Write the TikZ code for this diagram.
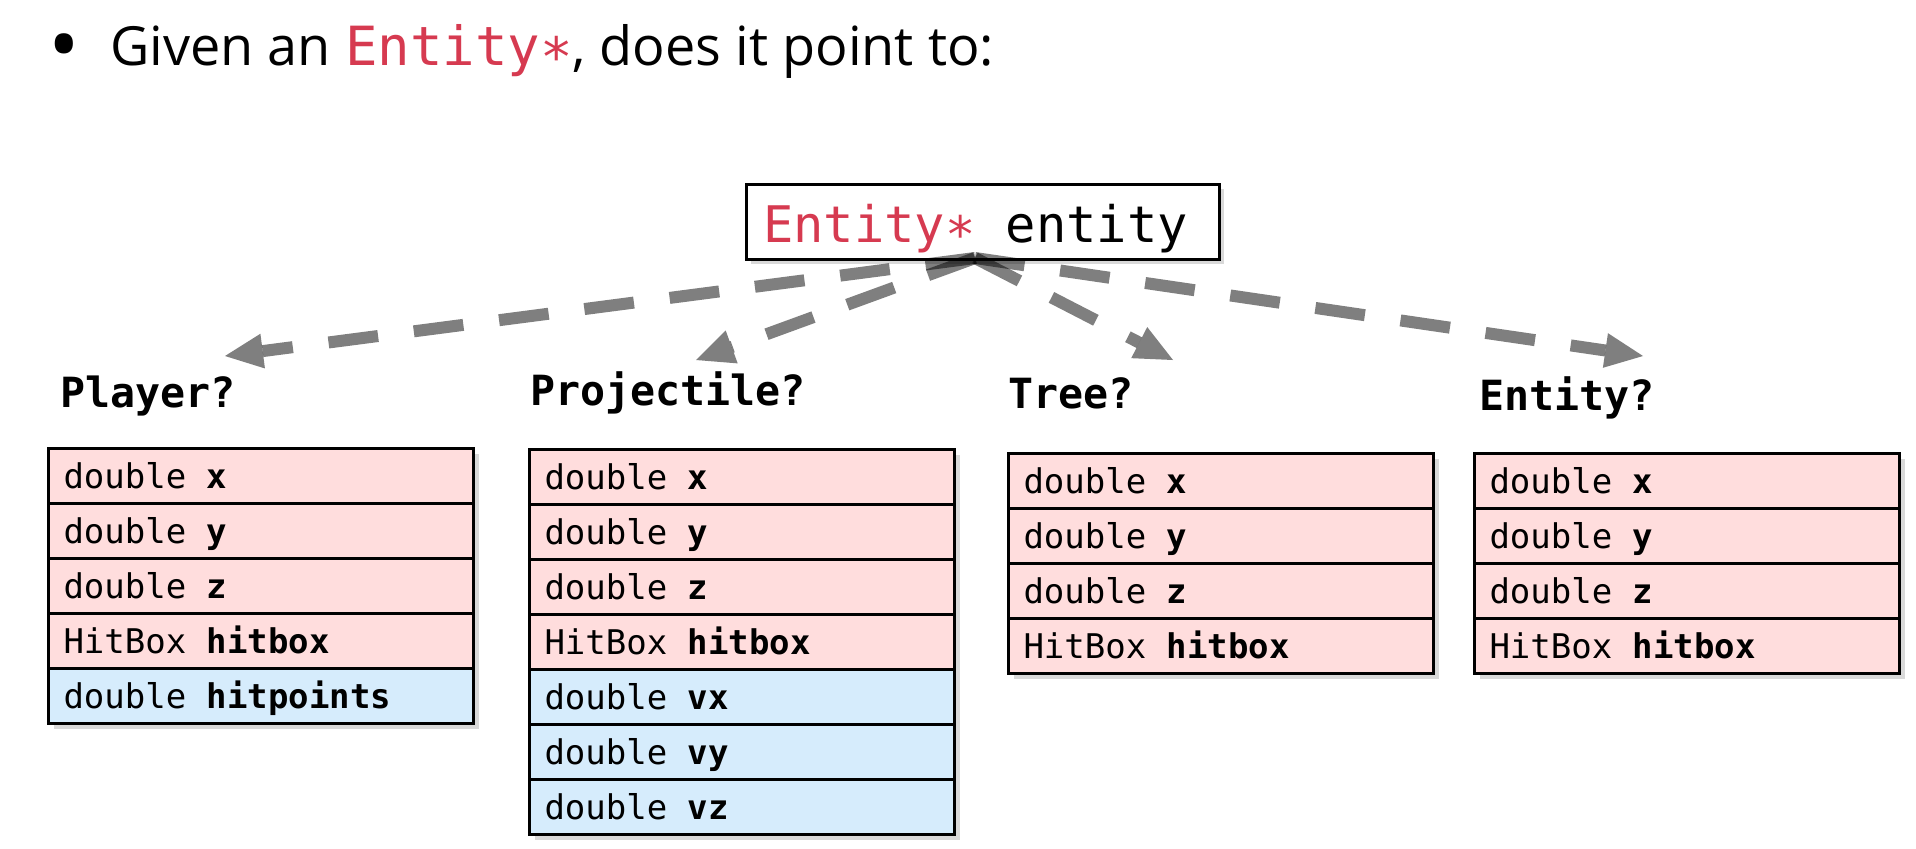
\documentclass[tikz,border=0pt]{standalone}
\usepackage{fontspec}
\setmainfont{Open Sans}
\setmonofont{DejaVu Sans Mono}
\usepackage{tikz}
\usetikzlibrary{arrows.meta, positioning, shadows, fit, backgrounds}
\definecolor{entred}{RGB}{214,58,80}
\definecolor{basepink}{RGB}{255,221,221}
\definecolor{extrablue}{RGB}{214,236,252}
\tikzstyle{title} = [anchor=base west, inner sep=0pt, font=\fontsize{27}{32}\selectfont]
\tikzstyle{pointer} = [rectangle, draw=black, line width=1.5pt, fill=white, text width=219.5pt, inner xsep=8.5pt, inner ysep=4pt, minimum height=37.5pt, text height=23pt, text depth=2.5pt, align=flush left, font=\ttfamily\fontsize{25.2}{30}\selectfont, drop shadow={shadow xshift=2.5pt, shadow yshift=-2.5pt, opacity=0.3}]
\tikzstyle{kind} = [anchor=base west, inner sep=0pt, font=\ttfamily\bfseries\fontsize{20.8}{25}\selectfont]
\tikzstyle{field} = [rectangle, draw=black, line width=1.5pt, outer sep=0pt, text width=197.5pt, inner xsep=7.5pt, minimum height=27.5pt, text height=14pt, text depth=1.5pt, align=flush left, font=\ttfamily\fontsize{17}{20}\selectfont]
\tikzstyle{basefield} = [field, fill=basepink]
\tikzstyle{extrafield} = [field, fill=extrablue]
\tikzstyle{tableshadow} = [inner sep=0pt, fill=white, drop shadow={shadow xshift=2.5pt, shadow yshift=-2.5pt, opacity=0.3}]
\tikzstyle{arrow} = [line width=6pt, black, opacity=0.5, dash pattern=on 25pt off 18pt, -{Triangle[length=19pt, width=17.5pt, line width=0pt]}]
\begin{document}
\begin{tikzpicture}[x=0.5pt, y=-0.5pt]
		\useasboundingbox (0,0) rectangle (1916,848);
		\node (Bullet) [inner sep=0pt, font=\fontsize{42}{42}\selectfont] at (64,54) {•};
		\node (Question) [title] at (110,65) {Given an {\ttfamily\color{entred}Entity∗}, does it point to:};
		\node (Pointer) [pointer] at (982.5,221.5) {{\color{entred}Entity∗} entity};
		\node (PlayerKind) [kind] at (60,407) {Player?};
		\node (ProjectileKind) [kind] at (530,405) {Projectile?};
		\node (TreeKind) [kind] at (1008,408) {Tree?};
		\node (EntityKind) [kind] at (1479,410) {Entity?};
		\node (Player1) [basefield, anchor=north west] at (48.5,448.5) {double \textbf{x}};
		\node (Player2) [basefield, below = 0pt of Player1] {double \textbf{y}};
		\node (Player3) [basefield, below = 0pt of Player2] {double \textbf{z}};
		\node (Player4) [basefield, below = 0pt of Player3] {HitBox \textbf{hitbox}};
		\node (Player5) [extrafield, below = 0pt of Player4] {double \textbf{hitpoints}};
		\node (Projectile1) [basefield, anchor=north west] at (529.5,449.5) {double \textbf{x}};
		\node (Projectile2) [basefield, below = 0pt of Projectile1] {double \textbf{y}};
		\node (Projectile3) [basefield, below = 0pt of Projectile2] {double \textbf{z}};
		\node (Projectile4) [basefield, below = 0pt of Projectile3] {HitBox \textbf{hitbox}};
		\node (Projectile5) [extrafield, below = 0pt of Projectile4] {double \textbf{vx}};
		\node (Projectile6) [extrafield, below = 0pt of Projectile5] {double \textbf{vy}};
		\node (Projectile7) [extrafield, below = 0pt of Projectile6] {double \textbf{vz}};
		\node (Tree1) [basefield, anchor=north west] at (1008.5,453.5) {double \textbf{x}};
		\node (Tree2) [basefield, below = 0pt of Tree1] {double \textbf{y}};
		\node (Tree3) [basefield, below = 0pt of Tree2] {double \textbf{z}};
		\node (Tree4) [basefield, below = 0pt of Tree3] {HitBox \textbf{hitbox}};
		\node (Entity1) [basefield, anchor=north west] at (1474.5,453.5) {double \textbf{x}};
		\node (Entity2) [basefield, below = 0pt of Entity1] {double \textbf{y}};
		\node (Entity3) [basefield, below = 0pt of Entity2] {double \textbf{z}};
		\node (Entity4) [basefield, below = 0pt of Entity3] {HitBox \textbf{hitbox}};
		\begin{scope}[on background layer]
			\node (PlayerTable) [tableshadow, fit = (Player1) (Player5)] {};
			\node (ProjectileTable) [tableshadow, fit = (Projectile1) (Projectile7)] {};
			\node (TreeTable) [tableshadow, fit = (Tree1) (Tree4)] {};
			\node (EntityTable) [tableshadow, fit = (Entity1) (Entity4)] {};
		\end{scope}
		\coordinate (Source) at (975,258);
		\coordinate (PlayerTip) at (225,356);
		\coordinate (ProjectileTip) at (696,360);
		\coordinate (TreeTip) at (1173,360);
		\coordinate (EntityTip) at (1643,356);
		\draw [arrow] (Source) -- (PlayerTip);
		\draw [arrow] (Source) -- (ProjectileTip);
		\draw [arrow] (Source) -- (TreeTip);
		\draw [arrow] (Source) -- (EntityTip);
\end{tikzpicture}
\end{document}
